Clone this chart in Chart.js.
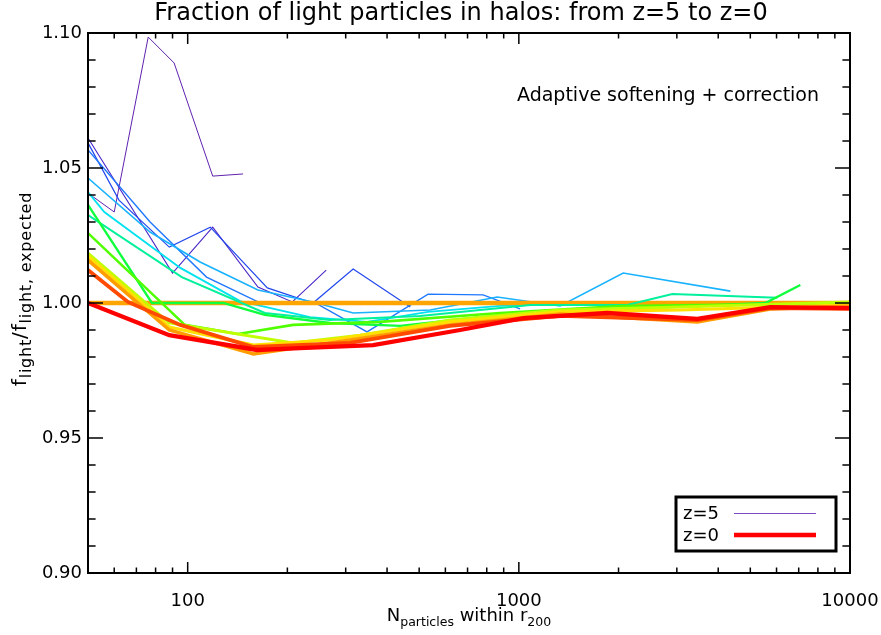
<!DOCTYPE html>
<html><head><meta charset="utf-8">
<script src="https://cdn.jsdelivr.net/npm/chart.js@4/dist/chart.umd.min.js"></script>
<style>html,body{margin:0;padding:0;background:#fff}canvas{display:block}</style>
</head><body>
<canvas id="c" width="881" height="635"></canvas>
<script>
// ---- data (N particles within r200, f_light / f_light,expected) ----
const n0 = [50, 60, 76, 91, 119, 147];
const f0 = [1.0407, 1.0337, 1.0985, 1.0889, 1.0470, 1.0478];
const n1 = [50, 90, 119, 163, 207, 262];
const f1 = [1.0611, 1.0111, 1.0281, 1.0059, 1.0004, 1.0122];
const n2 = [50, 62, 88, 117, 174, 239, 316, 470];
const f2 = [1.0593, 1.0381, 1.0207, 1.0281, 1.0056, 1.0000, 1.0126, 0.9985];
const n3 = [50, 77, 114, 163, 243, 348, 532, 780, 1009];
const f3 = [1.0567, 1.0300, 1.0096, 1.0004, 1.0000, 0.9893, 1.0033, 1.0030, 0.9978];
const n4 = [50, 77, 109, 163, 239, 316, 540, 860, 1333, 2066, 4352];
const f4 = [1.0463, 1.0263, 1.0152, 1.0048, 1.0004, 0.9963, 0.9974, 1.0022, 0.9989, 1.0111, 1.0044];
const n5 = [50, 56, 95, 144, 234, 348, 532, 878, 1333, 2025];
const f5 = [1.0411, 1.0337, 1.0130, 1.0007, 0.9948, 0.9930, 0.9967, 0.9989, 0.9996, 0.9993];
const n6 = [50, 96, 171, 269, 503, 1082, 2125, 2907, 6030];
const f6 = [1.0326, 1.0096, 0.9963, 0.9937, 0.9952, 0.9993, 0.9993, 1.0033, 1.0019];
const n7 = [50, 78, 128, 171, 269, 438, 878, 1762, 3532, 5550, 7080];
const f7 = [1.0363, 1.0000, 1.0000, 0.9956, 0.9926, 0.9915, 0.9956, 0.9974, 0.9989, 1.0000, 1.0067];
const n8 = [50, 98, 142, 208, 381, 878, 2025, 4060, 10000];
const f8 = [1.0259, 0.9919, 0.9885, 0.9919, 0.9930, 0.9963, 0.9989, 0.9993, 0.9996];
const n9 = [50, 88, 208, 332, 620, 1333, 3072, 10000];
const f9 = [1.0185, 0.9926, 0.9852, 0.9881, 0.9937, 0.9974, 0.9985, 1.0004];
const n10 = [50, 88, 158, 269, 620, 1333, 3072, 10000];
const f10 = [1.0174, 0.9911, 0.9844, 0.9863, 0.9930, 0.9967, 0.9974, 0.9993];
const n11 = [50, 88, 158, 269, 620, 1333, 3460, 5740, 10000];
const f11 = [1.0159, 0.9900, 0.9811, 0.9852, 0.9919, 0.9959, 0.9930, 0.9978, 0.9989];
const n12 = [50, 66, 95, 158, 309, 620, 1333, 3460, 5740, 10000];
const f12 = [1.0122, 1.0004, 0.9919, 0.9837, 0.9852, 0.9915, 0.9952, 0.9937, 0.9981, 0.9978];
const n13 = [50, 88, 162, 218, 363, 665, 1031, 1849, 3460, 5740, 10000];
const f13 = [1.0000, 0.9881, 0.9826, 0.9833, 0.9844, 0.9900, 0.9944, 0.9963, 0.9941, 0.9985, 0.9981];
const refN = [50, 10000];
const refF = [1.0, 1.0];

const xTickLabels = [100, 1000, 10000];
const yTickLabels = [0.90, 0.95, 1.00, 1.05, 1.10];
const legendLabels = ['z=5', 'z=0'];

// ---- styles ----
const colors = ['#5f22ae','#4a26c8','#2248ee','#2078ff','#18b2ff','#00e2f0','#00f09c','#10ff3c',
                '#50ff00','#c0ff00','#ffe000','#ff9c00','#ff4a00','#ff0000'];
const widths = [1, 1.1, 1.2, 1.4, 1.6, 1.8, 2.0, 2.3, 2.6, 2.9, 3.2, 3.5, 3.8, 4.3];
const seriesN = [n0,n1,n2,n3,n4,n5,n6,n7,n8,n9,n10,n11,n12,n13];
const seriesF = [f0,f1,f2,f3,f4,f5,f6,f7,f8,f9,f10,f11,f12,f13];

const datasets = seriesN.map((ns, i) => ({
  label: 'series' + i,
  data: ns.map((n, j) => ({x: n, y: seriesF[i][j]})),
  borderColor: colors[i], borderWidth: widths[i], pointRadius: 0, tension: 0,
  fill: false, order: 100 - i * 5
}));
datasets.push({
  label: 'reference',
  data: refN.map((n, j) => ({x: n, y: refF[j]})),
  borderColor: '#ffa500', borderWidth: 4.5, pointRadius: 0, fill: false, order: 72
});

const FONT = 'DejaVu Sans';

function richText(ctx, parts, x, y, mainSize, subSize, subShift, spacing) {
  const main = mainSize + 'px ' + FONT, sub = subSize + 'px ' + FONT;
  ctx.letterSpacing = spacing + 'px';
  let w = 0;
  parts.forEach(p => { ctx.font = p[1] ? sub : main; w += ctx.measureText(p[0]).width; });
  let cx = x - w / 2;
  ctx.textBaseline = 'alphabetic'; ctx.textAlign = 'left';
  parts.forEach(p => {
    ctx.font = p[1] ? sub : main;
    ctx.fillText(p[0], cx, y + (p[1] ? subShift : 0));
    cx += ctx.measureText(p[0]).width;
  });
  ctx.letterSpacing = '0px';
}

const decor = {
  id: 'decor',
  afterDatasetsDraw(chart) {
    const {ctx, chartArea: a, scales: {x, y}} = chart;
    ctx.save();
    ctx.strokeStyle = '#000'; ctx.lineWidth = 1.5;
    const seg = (x1, y1, x2, y2) => { ctx.beginPath(); ctx.moveTo(x1, y1); ctx.lineTo(x2, y2); ctx.stroke(); };
    for (let d = 10; d <= 10000; d *= 10) {
      for (let k = 1; k < 10; k++) {
        const v = k * d;
        if (v < 50 || v > 10000) continue;
        const px = x.getPixelForValue(v);
        const L = k === 1 ? 11 : 5.5;
        seg(px, a.bottom, px, a.bottom - L);
        seg(px, a.top, px, a.top + L);
      }
    }
    for (let i = 0; i <= 20; i++) {
      const v = 0.9 + i * 0.01;
      const py = y.getPixelForValue(v);
      const L = i % 5 === 0 ? 15 : 7.6;
      seg(a.left, py, a.left + L, py);
      seg(a.right, py, a.right - L, py);
    }
    ctx.lineWidth = 2;
    ctx.strokeRect(a.left, a.top, a.right - a.left, a.bottom - a.top);
    ctx.restore();
  },
  afterDraw(chart) {
    const {ctx, chartArea: a} = chart;
    ctx.save();
    ctx.fillStyle = '#000';
    // title
    ctx.font = '24px ' + FONT; ctx.textAlign = 'center'; ctx.textBaseline = 'middle';
    ctx.fillText('Fraction of light particles in halos: from z=5 to z=0', (a.left + a.right) / 2 - 8, 14);
    // annotation
    ctx.font = '19px ' + FONT;
    ctx.fillText('Adaptive softening + correction', a.right - 182, 96);
    // x title
    richText(ctx, [['N', 0], ['particles', 1], [' within r', 0], ['200', 1]], (a.left + a.right) / 2, 621, 18, 12.5, 5, 0);
    // y title
    ctx.save();
    ctx.translate(26, 289);
    ctx.rotate(-Math.PI / 2);
    richText(ctx, [['f', 0], ['light', 1], ['/f', 0], ['light, expected', 1]], 0, 0, 20, 16, 5, 0.8);
    ctx.restore();
    // legend box
    const bl = a.right - 174, br = a.right - 14, bt = a.bottom - 76, bb = a.bottom - 22;
    ctx.fillStyle = '#fff'; ctx.fillRect(bl, bt, br - bl, bb - bt);
    ctx.strokeStyle = '#000'; ctx.lineWidth = 3; ctx.strokeRect(bl, bt, br - bl, bb - bt);
    ctx.fillStyle = '#000'; ctx.font = '18px ' + FONT; ctx.textAlign = 'left'; ctx.textBaseline = 'middle';
    ctx.fillText(legendLabels[0], bl + 7, bt + 17);
    ctx.fillText(legendLabels[1], bl + 7, bt + 39);
    ctx.strokeStyle = '#7a4cc0'; ctx.lineWidth = 1;
    ctx.beginPath(); ctx.moveTo(bl + 58, bt + 16.5); ctx.lineTo(bl + 140, bt + 16.5); ctx.stroke();
    ctx.strokeStyle = colors[13]; ctx.lineWidth = 4.5;
    ctx.beginPath(); ctx.moveTo(bl + 58, bt + 38); ctx.lineTo(bl + 140, bt + 38); ctx.stroke();
    ctx.restore();
  }
};

new Chart(document.getElementById('c'), {
  type: 'line',
  data: {datasets},
  options: {
    responsive: false, animation: false, devicePixelRatio: 1,
    layout: {padding: {left: 0, right: 31, top: 33, bottom: 0}},
    plugins: {legend: {display: false}, tooltip: {enabled: false}},
    scales: {
      x: {
        type: 'logarithmic', min: 50, max: 10000,
        afterBuildTicks: s => { s.ticks = xTickLabels.map(v => ({value: v})); },
        afterFit: s => { s.height = 62; s.paddingLeft = 0; s.paddingRight = 0; },
        ticks: {callback: v => String(v), color: '#000', font: {family: FONT, size: 18}, padding: 18, maxRotation: 0, autoSkip: false},
        grid: {display: false, drawTicks: false}, border: {display: false}
      },
      y: {
        type: 'linear', min: 0.9, max: 1.1,
        afterBuildTicks: s => { s.ticks = yTickLabels.map(v => ({value: v})); },
        afterFit: s => { s.width = 88; s.paddingTop = 0; s.paddingBottom = 0; },
        ticks: {callback: v => v.toFixed(2), color: '#000', font: {family: FONT, size: 18}, padding: 6},
        grid: {display: false, drawTicks: false}, border: {display: false}
      }
    }
  },
  plugins: [decor]
});
</script>
</body></html>
